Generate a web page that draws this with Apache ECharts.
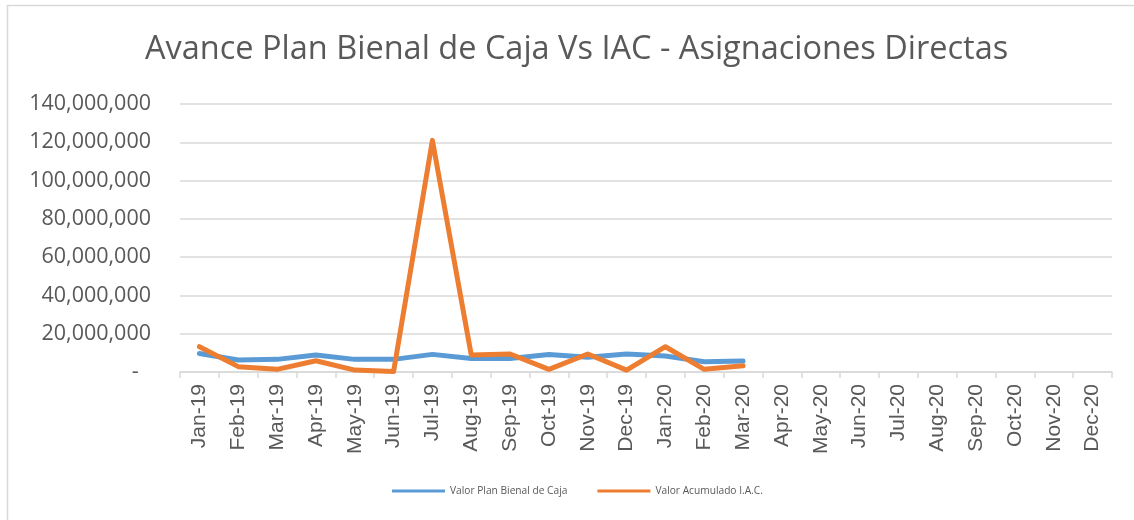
<!DOCTYPE html>
<html>
<head>
<meta charset="utf-8">
<script src="https://cdn.jsdelivr.net/npm/echarts@6/dist/echarts.min.js"></script>
<style>
  html, body { margin: 0; padding: 0; background: #fff; }
  #chart { width: 1134px; height: 520px; }
</style>
</head>
<body>
<div id="chart"></div>
<script>
// Months shown on the category axis
const months = [
  'Jan-19', 'Feb-19', 'Mar-19', 'Apr-19', 'May-19', 'Jun-19',
  'Jul-19', 'Aug-19', 'Sep-19', 'Oct-19', 'Nov-19', 'Dec-19',
  'Jan-20', 'Feb-20', 'Mar-20', 'Apr-20', 'May-20', 'Jun-20',
  'Jul-20', 'Aug-20', 'Sep-20', 'Oct-20', 'Nov-20', 'Dec-20'
];

// Valor Plan Bienal de Caja (monthly)
const planBienal = [
  9700000, 6300000, 6600000, 8900000, 6600000, 6600000,
  9200000, 7000000, 7100000, 9200000, 7700000, 9400000,
  8400000, 5400000, 5700000, null, null, null,
  null, null, null, null, null, null
];

// Valor Acumulado I.A.C. (monthly)
const acumuladoIAC = [
  13200000, 2800000, 1400000, 5900000, 1000000, 200000,
  121000000, 8900000, 9400000, 1400000, 9400000, 1000000,
  13200000, 1400000, 3300000, null, null, null,
  null, null, null, null, null, null
];

const seriesNames = ['Valor Plan Bienal de Caja', 'Valor Acumulado I.A.C.'];
const titleText = 'Avance Plan Bienal de Caja Vs IAC - Asignaciones Directas';

const chart = echarts.init(document.getElementById('chart'), null, { renderer: 'canvas' });

const textColor = '#595959';
const gridColor = '#D9D9D9';

chart.setOption({
  animation: false,
  backgroundColor: '#ffffff',
  graphic: [{
    type: 'rect',
    shape: { x: 7.5, y: 5.5, width: 1200, height: 600 },
    style: { fill: 'none', stroke: '#D9D9D9', lineWidth: 1.5 },
    silent: true,
    z: -10
  }],
  title: {
    text: titleText,
    left: 140,
    top: 28,
    textStyle: {
      fontFamily: 'Open Sans',
      fontSize: 32.5,
      fontWeight: 'normal',
      color: textColor
    }
  },
  legend: {
    bottom: 19,
    left: 387,
    icon: 'rect',
    itemWidth: 53,
    itemHeight: 3,
    itemGap: 30,
    textStyle: { fontFamily: 'Open Sans', fontSize: 10.2, color: textColor },
    data: seriesNames
  },
  grid: { left: 180, right: 22, top: 104, bottom: 148 },
  xAxis: {
    type: 'category',
    data: months,
    boundaryGap: true,
    axisLine: { lineStyle: { color: gridColor, width: 1.5 } },
    axisTick: { show: true, length: 6, lineStyle: { color: gridColor, width: 1.5 } },
    axisLabel: {
      rotate: 90,
      margin: 12,
      interval: 0,
      fontFamily: 'Liberation Sans',
      fontSize: 21,
      color: textColor
    }
  },
  yAxis: {
    type: 'value',
    min: 0,
    max: 140000000,
    interval: 20000000,
    axisLine: { show: false },
    axisTick: { show: false },
    splitLine: { lineStyle: { color: gridColor, width: 1.5 } },
    axisLabel: {
      margin: 29,
      fontFamily: 'Open Sans',
      fontSize: 21.5,
      color: textColor,
      formatter: function (v) {
        if (v === 0) return '-\u2007';
        return v.toLocaleString('en-US');
      }
    }
  },
  series: [
    {
      name: seriesNames[0],
      type: 'line',
      data: planBienal,
      symbol: 'none',
      lineStyle: { color: '#5B9BD5', width: 5, join: 'round', cap: 'round' },
      itemStyle: { color: '#5B9BD5' }
    },
    {
      name: seriesNames[1],
      type: 'line',
      data: acumuladoIAC,
      symbol: 'none',
      lineStyle: { color: '#ED7D31', width: 5, join: 'round', cap: 'round' },
      itemStyle: { color: '#ED7D31' }
    }
  ]
});
</script>
</body>
</html>
